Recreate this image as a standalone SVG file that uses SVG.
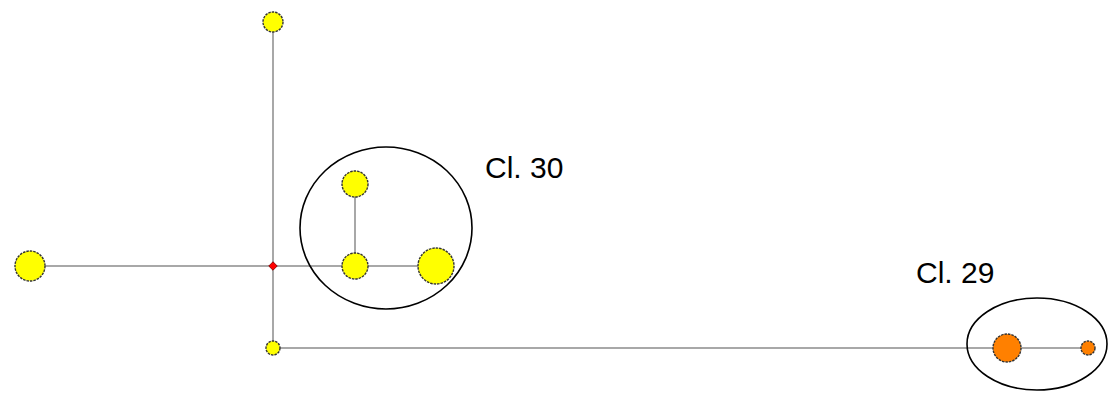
<svg xmlns="http://www.w3.org/2000/svg" width="1108" height="394" viewBox="0 0 1108 394">
<style>
.edge{stroke:#a8a8a8;stroke-width:2;fill:none}
.y{fill:#ffff00;stroke:#333;stroke-width:1.4;stroke-dasharray:2.5 1}
.o{fill:#ff8000;stroke:#333;stroke-width:1.4;stroke-dasharray:2.5 1}
.cl{fill:none;stroke:#000;stroke-width:1.6}
.lbl{font-family:"Liberation Sans",Arial,sans-serif;font-size:30px;fill:#000}
</style>
<rect width="1108" height="394" fill="#fff"/>
<g id="connectors">
<line class="edge" x1="273" y1="22" x2="273" y2="348"/>
<line class="edge" x1="30" y1="266" x2="435" y2="266"/>
<line class="edge" x1="355" y1="184" x2="355" y2="266"/>
<line class="edge" x1="273" y1="348" x2="1088" y2="348"/>
</g>
<g id="cluster30"><ellipse class="cl" cx="386" cy="228" rx="86" ry="81"/><text class="lbl" x="485" y="178">Cl. 30</text></g>
<g id="cluster29"><ellipse class="cl" cx="1037" cy="344" rx="70" ry="46"/><text class="lbl" x="916" y="283">Cl. 29</text></g>
<g id="n-top"><circle class="y" cx="273" cy="22" r="10"/></g>
<g id="n-left"><circle class="y" cx="30" cy="266" r="15"/></g>
<g id="n-hub"><rect x="270" y="263" width="6" height="6" fill="#ff0000" stroke="#800000" stroke-width="0.8" transform="rotate(45 273 266)"/></g>
<g id="n-bottom"><circle class="y" cx="273" cy="348" r="7"/></g>
<g id="n-c30a"><circle class="y" cx="355" cy="184" r="13"/></g>
<g id="n-c30b"><circle class="y" cx="355" cy="266" r="13"/></g>
<g id="n-c30c"><circle class="y" cx="436" cy="266" r="18"/></g>
<g id="n-c29a"><circle class="o" cx="1007" cy="348" r="14"/></g>
<g id="n-c29b"><circle class="o" cx="1088" cy="348" r="7"/></g>
</svg>
